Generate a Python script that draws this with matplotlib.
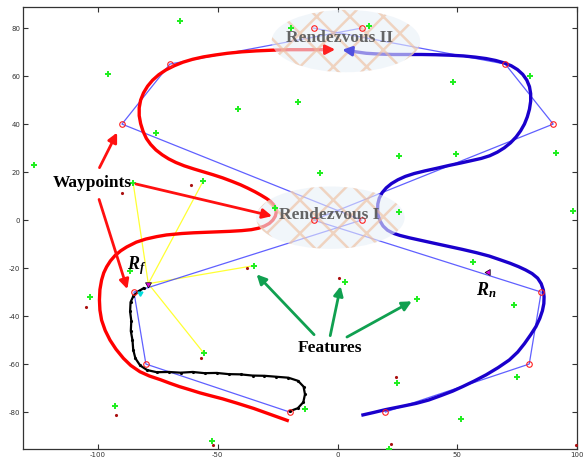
import matplotlib.pyplot as plt
from matplotlib.patches import Ellipse

plt.rcParams['mathtext.fontset'] = 'custom'
plt.rcParams['mathtext.it'] = 'Liberation Serif:bold:italic'
plt.rcParams['mathtext.rm'] = 'Liberation Serif:bold'
plt.rcParams['axes.unicode_minus'] = False
plt.rcParams['hatch.linewidth'] = 1.8

# waypoint polygons of the two robots (rendezvous points included)
red_wp_x = [-20, -80, -85, 10, -90, -70, 10]
red_wp_y = [-80, -60, -30, 0, 40, 65, 80]
blue_wp_x = [20, 80, 85, -10, 90, 70, -10]
blue_wp_y = [-80, -60, -30, 0, 40, 65, 80]

# planned smooth paths
red_path_x = [-21, -28, -35, -42, -48, -53, -57.5, -62, -66, -70, -74, -78.5, -82.5,
              -86.3, -89.4, -92.5, -95, -97, -98.5, -99.2, -99.4, -99.2, -98.5, -97.6,
              -96.4, -94.8, -92.9, -90.5, -88, -84, -80, -75.5, -71.4, -65, -60, -55,
              -50, -45, -40, -36, -33, -30.5, -28.5, -27, -26, -25.6, -25.8, -26.7,
              -28, -29.7, -32, -34.5, -37.5, -40.5, -44, -48, -52, -56, -60, -64,
              -67.5, -70.5, -73.2, -75.8, -78, -79.8, -81.2, -82.2, -82.8, -82.8,
              -82.2, -81, -79.3, -77.2, -74.6, -71.6, -68.2, -64.5, -60.5, -56, -51,
              -46, -40, -34, -27, -20, -13, -6]
red_path_y = [-83.5, -81, -78.5, -76.3, -74.5, -73.2, -72, -70.6, -69.4, -68, -66.5, -65, -63.2,
              -60.6, -57.6, -53.8, -50, -46, -41.7, -37.5, -33.3, -29, -25, -22,
              -19.5, -17, -14.8, -12.8, -11.2, -9.2, -7.9, -6.9, -6.2, -5.6, -5.3, -5.1,
              -4.9, -4.7, -4.4, -4, -3.4, -2.5, -1.4, 0, 1.6, 3.2, 4.8, 6.4,
              7.8, 9, 10.4, 11.8, 13.3, 14.7, 16.1, 17.6, 18.9, 20.1, 21.3, 22.6,
              24, 25.5, 27.2, 29.2, 31.5, 34, 37, 40.2, 43.5, 46.8,
              50, 53, 55.8, 58.3, 60.6, 62.6, 64.3, 65.8, 67, 68, 68.8,
              69.5, 70.1, 70.5, 70.8, 71, 71, 71]
blue_path_x = [10.6, 15, 20, 26, 32.8, 38, 43, 48, 52.2, 57, 62, 67, 71.7, 75.2, 78,
               80.6, 82.8, 84.4, 85.5, 86.1, 86.2, 85.9, 85, 83.5, 81.2, 78.5, 75.5,
               72, 68, 63.3, 58, 52, 46, 40, 35, 30, 26, 23, 20.8, 19, 17.8, 17,
               16.7, 16.8, 17.4, 18.6, 20.3, 22.5, 25.2, 28.3, 32, 36.5, 41.5, 46.7,
               51.5, 56, 60, 63.5, 66.7, 69.6, 72.2, 74.5, 76.4, 78, 79.2, 80.1, 80.6,
               80.6, 80.1, 79, 77.3, 75.1, 72.5, 69.5, 66, 62, 57.5, 52.5, 47, 41, 35,
               29, 23, 17, 12, 7]
blue_path_y = [-81.2, -80.2, -79, -77.8, -76.4, -75, -73.2, -71.3, -69.4, -67.1, -64.5, -61.5, -58.3, -55, -51.5,
               -47.8, -44.4, -41, -37.8, -34.8, -32, -29.2, -26.5, -24.2, -22.3, -20.8, -19.4,
               -18, -16.6, -15, -13.6, -12.2, -10.9, -9.6, -8.5, -7.4, -6.4, -5.4, -4.2, -2.5, -0.5, 1.8,
               4.2, 6.7, 9.1, 11.4, 13.4, 15.2, 16.8, 18.2, 19.4, 20.5, 21.6, 22.8,
               23.8, 24.8, 25.7, 26.8, 28.3, 30.1, 32.2, 34.6, 37.2, 40, 43, 46.2, 49.5,
               52.7, 55.6, 58.3, 60.7, 62.7, 64.3, 65.5, 66.5, 67.3, 67.9, 68.4, 68.7, 68.9, 69,
               69, 69, 69.2, 69.5, 70.2]

# executed trajectory of R_f
traj_x = [-81, -83, -85.2, -86.4, -86.6, -86.1, -86.3, -85.6, -85.3, -84.4, -82.4, -79.5,
          -75.5, -70.5, -65.5, -60.5, -55.5, -50.5, -45.5, -40.5, -35.5, -30.5, -25.5,
          -20.5, -16.5, -14.2, -13.6, -14.3, -16.6, -19.8]
traj_y = [-28.4, -29.6, -31.6, -34.2, -38.1, -42, -46.2, -50.1, -54, -57.6, -60.6, -62.5,
          -63.4, -63.3, -63.6, -63.3, -63.8, -63.7, -64.2, -64.3, -64.8, -64.9, -65.3,
          -65.7, -67, -69.4, -72.6, -75.9, -78.4, -79.6]

# map features
feat_x = [-65.8, -96, -126.7, -75.8, -41.5, -16.5, -19.3, -85.3, -56, -26.2, 13.3, 48,
          80.3, 25.6, 49.4, 91.1, -7.2, 25.8, 98.3, -86.7, -103.3, -92.9, -52.6, -55.8,
          -35, 2.9, 33, 56.4, 73.8, 75.1, 51.5, 24.7, -13.8, 21.4]
feat_y = [83, 60.8, 22.9, 36.1, 46.2, 49, 79.9, 15.3, 16.4, 4.9, 80.8, 57.6,
          60, 26.8, 27.4, 28, 19.7, 3.5, 3.9, -21.1, -32, -77.4, -92, -55.5,
          -19, -25.7, -32.9, -17.4, -35.4, -65.3, -83, -68, -78.8, -95.5]

# feature estimates
est_x = [-105, -92.6, -56.8, -38, -52, -90, -61, 0.5, 24.2, 22.4, 99.6]
est_y = [-36.4, -81.2, -57.6, -20.1, -93.8, 11.4, 14.6, -24.3, -65.3, -93.3, -93.8]

# features currently observed by R_f
obs_x = [-85.3, -56, -55.8, -35]
obs_y = [15.3, 16.4, -55.5, -19]
rf_x, rf_y = -79, -26.5
rn_x, rn_y = 63, -21.5

fig = plt.figure(figsize=(5.87, 4.59), dpi=100)
ax = fig.add_axes([0.0392, 0.0218, 0.944, 0.963])

for cx, cy in [(-3, 1), (3.5, 74.6)]:
    ax.add_patch(Ellipse((cx, cy), 62, 26, facecolor='#e9f0f8', edgecolor='#eebc9a',
                         hatch='x', linewidth=0, alpha=0.6, zorder=3))

for x, y in zip(obs_x, obs_y):
    ax.plot([rf_x, x], [rf_y, y], color='#ffff33', lw=0.9, zorder=1)

ax.plot(red_wp_x, red_wp_y, color='#4444ff', lw=0.9, alpha=0.85, zorder=1)
ax.plot(blue_wp_x, blue_wp_y, color='#4444ff', lw=0.9, alpha=0.85, zorder=1)

ax.plot(red_path_x, red_path_y, color='#ff0000', lw=2.4, solid_joinstyle='round', zorder=2)
ax.plot(blue_path_x, blue_path_y, color='#1a00cc', lw=2.4, solid_joinstyle='round', zorder=2)
ax.annotate('', xy=(0.2, 71.1), xytext=(-6, 71),
            arrowprops=dict(arrowstyle='-|>', color='#ff2020', lw=2, mutation_scale=14), zorder=6)
ax.annotate('', xy=(0.8, 71.1), xytext=(7, 70.3),
            arrowprops=dict(arrowstyle='-|>', color='#5050e0', lw=2, mutation_scale=14), zorder=6)

ax.plot(traj_x, traj_y, color='black', lw=1.6, marker='.', ms=2.5, zorder=4)

ax.plot(red_wp_x + blue_wp_x, red_wp_y + blue_wp_y, 'o', mfc='none', mec='#ff2020',
        ms=4, mew=0.8, zorder=5)
ax.plot(feat_x, feat_y, 'P', color='#22ee22', ms=4.5, mew=0, zorder=5)
ax.plot(est_x, est_y, '.', color='#aa1010', ms=2.5, zorder=5)

ax.plot([rf_x], [rf_y], marker=(3, 0, 60), color='#e000e0', mec='black', ms=5, mew=0.5, zorder=6)
ax.plot([-82.5], [-30.2], marker=(3, 0, 60), color='#00dddd', ms=4, zorder=6)
ax.plot([rn_x], [rn_y], marker=(3, 0, 90), color='#e000e0', mec='black', ms=5, mew=0.5, zorder=6)

ax.text(0.8, 75.8, 'Rendezvous II', family='Liberation Serif', weight='bold', fontsize=12.5,
        color='#555555', alpha=0.9, ha='center', va='center', zorder=7)
ax.text(-3.3, 2.2, 'Rendezvous I', family='Liberation Serif', weight='bold', fontsize=12.5,
        color='#555555', alpha=0.9, ha='center', va='center', zorder=7)
ax.text(-102.5, 15.4, 'Waypoints', family='Liberation Serif', weight='bold', fontsize=12.5,
        ha='center', va='center', zorder=7)
ax.text(-3.2, -53.3, 'Features', family='Liberation Serif', weight='bold', fontsize=12.5,
        ha='center', va='center', zorder=7)
ax.text(-84, -19, '$R_f$', fontsize=13, ha='center', va='center', zorder=7)
ax.text(62, -29, '$R_n$', fontsize=13, ha='center', va='center', zorder=7)

red_arrows = [((-99.9, 20.8), (-91.5, 37.5)), ((-85.3, 15.3), (-26.2, 1.4)),
              ((-99.9, 9.7), (-87.4, -29.9))]
for start, tip in red_arrows:
    ax.annotate('', xy=tip, xytext=start,
                arrowprops=dict(arrowstyle='-|>', color='#ff1010', lw=2, mutation_scale=14), zorder=7)
green_arrows = [((-9, -48.6), (-34.6, -21.8)), ((-3.3, -49.3), (1.5, -26.4)),
                ((2.9, -49.3), (32, -33.3))]
for start, tip in green_arrows:
    ax.annotate('', xy=tip, xytext=start,
                arrowprops=dict(arrowstyle='-|>', color='#10a050', lw=2, mutation_scale=14), zorder=7)

ax.set_xlim(-131.3, 99.6)
ax.set_ylim(-95.4, 88.8)
ax.set_xticks([-100, -50, 0, 50, 100])
ax.set_yticks([-80, -60, -40, -20, 0, 20, 40, 60, 80])
ax.tick_params(direction='in', top=True, right=True, length=3.5, width=0.8,
               labelsize=5, pad=2, colors='#333333')
for s in ax.spines.values():
    s.set_color('#333333')
    s.set_linewidth(0.9)

fig.savefig('out.png', dpi=100)
